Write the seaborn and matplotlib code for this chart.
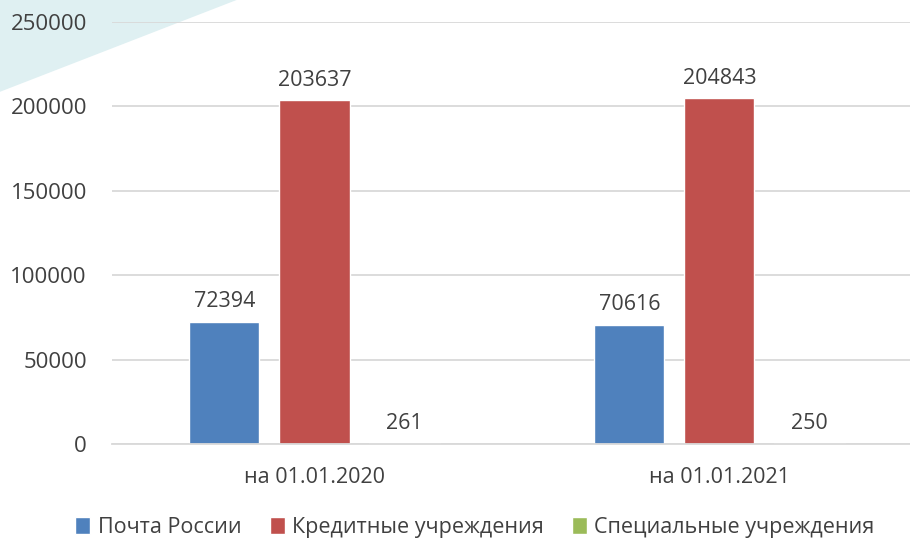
import pandas as pd
import matplotlib.pyplot as plt
from matplotlib.patches import Polygon
import seaborn as sns

# data
dates = ["на 01.01.2020", "на 01.01.2021"]
series = ["Почта России", "Кредитные учреждения", "Специальные учреждения"]
pochta = [72394, 70616]
kredit = [203637, 204843]
special = [261, 250]

colors = ["#4F81BD", "#C0504D", "#9BBB59"]
text_col = "#404040"

sns.set_theme(style="white")
plt.rcParams["font.family"] = ["Open Sans", "DejaVu Sans"]

df = pd.DataFrame({
    "date": dates * 3,
    "series": [s for s in series for _ in dates],
    "value": pochta + kredit + special,
})

fig = plt.figure(figsize=(9.1, 5.4), dpi=100)

# light decorative corner in the top left, behind everything
fig.patches.append(Polygon([(0, 1), (0.26, 1), (0, 0.83)], closed=True,
                           transform=fig.transFigure, facecolor="#dff0f2",
                           edgecolor="none", zorder=-5))

ax = fig.add_axes([0.123, 0.178, 0.89, 0.781])
ax.patch.set_alpha(0)

sns.barplot(data=df, x="date", y="value", hue="series", hue_order=series,
            palette=colors, width=0.667, gap=0.22, ax=ax, legend=True,
            saturation=1)

for cont in ax.containers:
    ax.bar_label(cont, fmt="%d", padding=7, fontsize=15.5, color=text_col)

ax.set_ylim(0, 250000)
ax.set_yticks(range(0, 250001, 50000))
ax.grid(axis="y", color="#d9d9d9", linewidth=1.3)
ax.set_axisbelow(True)
for s in ["top", "right", "left"]:
    ax.spines[s].set_visible(False)
ax.spines["bottom"].set_color("#d9d9d9")
ax.spines["bottom"].set_linewidth(1.3)
ax.tick_params(axis="y", length=0, labelsize=16, labelcolor=text_col, pad=18)
ax.tick_params(axis="x", length=0, labelsize=15.5, labelcolor=text_col, pad=17)
ax.set_xlabel("")
ax.set_ylabel("")

ax.get_legend().remove()
handles, labels = ax.get_legend_handles_labels()
fig.legend(handles, labels, loc="lower center", bbox_to_anchor=(0.522, -0.032),
           ncol=3, frameon=False, fontsize=15.5, labelcolor=text_col,
           handlelength=0.7, handleheight=0.85, handletextpad=0.35,
           columnspacing=1.3)

plt.savefig("out.png", dpi=100)
